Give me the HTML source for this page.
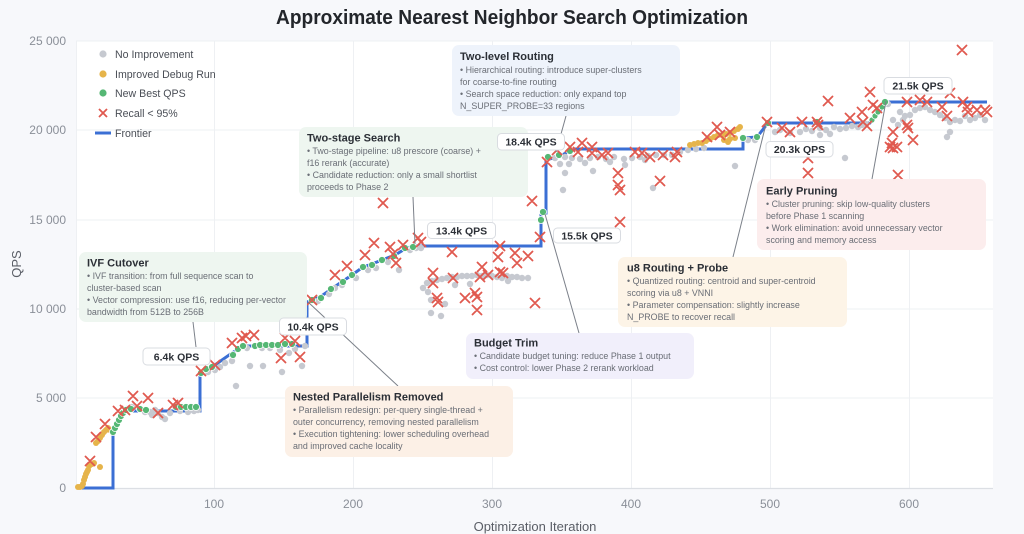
<!DOCTYPE html>
<html><head><meta charset="utf-8"><style>
html,body{margin:0;padding:0;background:#f7f8fb;}
svg{display:block;font-family:"Liberation Sans",sans-serif;}
.tk{font-size:12px;fill:#8a8f98;}
.lg{font-size:10.6px;fill:#4a4e56;}
.bt{font-size:11px;font-weight:bold;fill:#2b2f36;}
.bx{font-size:8.9px;fill:#6a6e76;}
.ql{font-size:10.5px;font-weight:bold;fill:#2b2f36;}
</style></head><body>
<svg width="1024" height="534" viewBox="0 0 1024 534" xmlns="http://www.w3.org/2000/svg">
<rect x="0" y="0" width="1024" height="534" fill="#f7f8fb"/>
<text x="512" y="24" text-anchor="middle" font-size="20" font-weight="bold" fill="#23262b" textLength="472" lengthAdjust="spacingAndGlyphs">Approximate Nearest Neighbor Search Optimization</text>
<!-- plot area -->
<rect x="76" y="41" width="917" height="447" fill="#ffffff"/>
<g stroke="#eef0f3" stroke-width="1">
<line x1="76" y1="41" x2="993" y2="41"/>
<line x1="76" y1="130" x2="993" y2="130"/>
<line x1="76" y1="220" x2="993" y2="220"/>
<line x1="76" y1="309" x2="993" y2="309"/>
<line x1="76" y1="398" x2="993" y2="398"/>
<line x1="214.5" y1="41" x2="214.5" y2="488"/>
<line x1="353.5" y1="41" x2="353.5" y2="488"/>
<line x1="492.5" y1="41" x2="492.5" y2="488"/>
<line x1="631.5" y1="41" x2="631.5" y2="488"/>
<line x1="770.5" y1="41" x2="770.5" y2="488"/>
<line x1="909.5" y1="41" x2="909.5" y2="488"/>
<line x1="76.5" y1="41" x2="76.5" y2="488"/>
</g>
<line x1="76" y1="488.5" x2="993" y2="488.5" stroke="#dcdfe4" stroke-width="1.2"/>
<!-- ticks -->
<g class="tk" text-anchor="end">
<text x="66" y="45">25 000</text>
<text x="66" y="134">20 000</text>
<text x="66" y="224">15 000</text>
<text x="66" y="313">10 000</text>
<text x="66" y="402">5 000</text>
<text x="66" y="492">0</text>
</g>
<g class="tk" text-anchor="middle">
<text x="214" y="508">100</text>
<text x="353" y="508">200</text>
<text x="492" y="508">300</text>
<text x="631" y="508">400</text>
<text x="770" y="508">500</text>
<text x="909" y="508">600</text>
</g>
<text x="535" y="531" text-anchor="middle" font-size="13" fill="#5a5e66">Optimization Iteration</text>
<text transform="translate(21,264) rotate(-90)" text-anchor="middle" font-size="13" fill="#5a5e66">QPS</text>

<!-- frontier -->
<path d="M80,488 H113 V432 L117,424 L121,416 L125,411 H200 V373 L206,369 L212,367 L222,360 L232,353 L243,346 H307 V302 L320,297 L330,290 L343,281 L352,275 L363,267 L372,264 L382,260 L395,255 L405,249 L413,246 H541 V213 H546 V160 L560,156 L570,151 L575,149 H743 V138 L757,137 L768,123 H870 L875,117 L882,108 L886,102 H987" fill="none" stroke="#3b6fd4" stroke-width="3" stroke-linejoin="miter"/>

<!-- gray points -->
<g fill="#c6c9d0">
<circle cx="150" cy="412" r="3.2"/><circle cx="152" cy="415" r="3.2"/><circle cx="158" cy="413" r="3.2"/><circle cx="162" cy="417" r="3.2"/><circle cx="165" cy="419" r="3.2"/><circle cx="170" cy="413" r="3.2"/><circle cx="180" cy="411" r="3.2"/><circle cx="188" cy="412" r="3.2"/><circle cx="194" cy="411" r="3.2"/><circle cx="198" cy="410" r="3.2"/><circle cx="155" cy="410" r="3.2"/><circle cx="145" cy="412" r="3.2"/><circle cx="132" cy="407" r="3.2"/><circle cx="127" cy="409" r="3.2"/>
<circle cx="215" cy="370" r="3.2"/><circle cx="220" cy="367" r="3.2"/><circle cx="225" cy="363" r="3.2"/><circle cx="232" cy="361" r="3.2"/><circle cx="236" cy="386" r="3.2"/><circle cx="250" cy="366" r="3.2"/><circle cx="263" cy="366" r="3.2"/><circle cx="282" cy="372" r="3.2"/><circle cx="302" cy="366" r="3.2"/><circle cx="289" cy="353" r="3.2"/><circle cx="262" cy="348" r="3.2"/><circle cx="270" cy="348" r="3.2"/><circle cx="280" cy="350" r="3.2"/><circle cx="295" cy="349" r="3.2"/><circle cx="305" cy="346" r="3.2"/><circle cx="247" cy="348" r="3.2"/><circle cx="208" cy="372" r="3.2"/>
<circle cx="329" cy="294" r="3.2"/><circle cx="342" cy="285" r="3.2"/><circle cx="356" cy="278" r="3.2"/><circle cx="368" cy="270" r="3.2"/><circle cx="376" cy="268" r="3.2"/><circle cx="388" cy="262" r="3.2"/><circle cx="399" cy="270" r="3.2"/><circle cx="410" cy="250" r="3.2"/><circle cx="416" cy="248" r="3.2"/><circle cx="421" cy="248" r="3.2"/><circle cx="318" cy="301" r="3.2"/><circle cx="335" cy="288" r="3.2"/>
<circle cx="427" cy="283" r="3.2"/><circle cx="432" cy="281" r="3.2"/><circle cx="437" cy="280" r="3.2"/><circle cx="442" cy="279" r="3.2"/><circle cx="447" cy="278" r="3.2"/><circle cx="452" cy="277" r="3.2"/><circle cx="457" cy="277" r="3.2"/><circle cx="462" cy="276" r="3.2"/><circle cx="467" cy="276" r="3.2"/><circle cx="472" cy="276" r="3.2"/><circle cx="477" cy="275" r="3.2"/><circle cx="482" cy="276" r="3.2"/><circle cx="487" cy="275" r="3.2"/><circle cx="492" cy="276" r="3.2"/><circle cx="497" cy="277" r="3.2"/><circle cx="502" cy="278" r="3.2"/><circle cx="507" cy="276" r="3.2"/><circle cx="512" cy="277" r="3.2"/><circle cx="517" cy="277" r="3.2"/><circle cx="522" cy="278" r="3.2"/><circle cx="528" cy="278" r="3.2"/><circle cx="428" cy="292" r="3.2"/><circle cx="431" cy="300" r="3.2"/><circle cx="431" cy="313" r="3.2"/><circle cx="441" cy="316" r="3.2"/><circle cx="445" cy="304" r="3.2"/><circle cx="423" cy="288" r="3.2"/><circle cx="508" cy="281" r="3.2"/><circle cx="470" cy="284" r="3.2"/><circle cx="455" cy="285" r="3.2"/>
<circle cx="555" cy="158" r="3.2"/><circle cx="565" cy="157" r="3.2"/><circle cx="572" cy="158" r="3.2"/><circle cx="580" cy="159" r="3.2"/><circle cx="590" cy="158" r="3.2"/><circle cx="598" cy="157" r="3.2"/><circle cx="606" cy="159" r="3.2"/><circle cx="614" cy="157" r="3.2"/><circle cx="624" cy="159" r="3.2"/><circle cx="632" cy="158" r="3.2"/><circle cx="640" cy="157" r="3.2"/><circle cx="648" cy="156" r="3.2"/><circle cx="656" cy="155" r="3.2"/><circle cx="664" cy="155" r="3.2"/><circle cx="672" cy="155" r="3.2"/><circle cx="680" cy="152" r="3.2"/><circle cx="688" cy="150" r="3.2"/><circle cx="696" cy="149" r="3.2"/><circle cx="704" cy="148" r="3.2"/><circle cx="565" cy="173" r="3.2"/><circle cx="593" cy="171" r="3.2"/><circle cx="563" cy="190" r="3.2"/><circle cx="653" cy="188" r="3.2"/><circle cx="560" cy="164" r="3.2"/><circle cx="569" cy="164" r="3.2"/><circle cx="585" cy="163" r="3.2"/><circle cx="610" cy="162" r="3.2"/><circle cx="625" cy="165" r="3.2"/><circle cx="645" cy="160" r="3.2"/>
<circle cx="748" cy="140" r="3.2"/><circle cx="755" cy="140" r="3.2"/><circle cx="775" cy="132" r="3.2"/><circle cx="780" cy="130" r="3.2"/><circle cx="790" cy="133" r="3.2"/><circle cx="800" cy="132" r="3.2"/><circle cx="806" cy="129" r="3.2"/><circle cx="812" cy="131" r="3.2"/><circle cx="820" cy="128" r="3.2"/><circle cx="826" cy="130" r="3.2"/><circle cx="834" cy="127" r="3.2"/><circle cx="840" cy="129" r="3.2"/><circle cx="846" cy="128" r="3.2"/><circle cx="852" cy="126" r="3.2"/><circle cx="858" cy="127" r="3.2"/><circle cx="862" cy="125" r="3.2"/><circle cx="866" cy="124" r="3.2"/><circle cx="735" cy="166" r="3.2"/><circle cx="845" cy="158" r="3.2"/><circle cx="830" cy="134" r="3.2"/><circle cx="820" cy="135" r="3.2"/>
<circle cx="893" cy="120" r="3.2"/><circle cx="898" cy="125" r="3.2"/><circle cx="900" cy="112" r="3.2"/><circle cx="905" cy="116" r="3.2"/><circle cx="910" cy="115" r="3.2"/><circle cx="915" cy="110" r="3.2"/><circle cx="920" cy="108" r="3.2"/><circle cx="925" cy="107" r="3.2"/><circle cx="930" cy="110" r="3.2"/><circle cx="935" cy="112" r="3.2"/><circle cx="940" cy="115" r="3.2"/><circle cx="945" cy="118" r="3.2"/><circle cx="950" cy="122" r="3.2"/><circle cx="955" cy="120" r="3.2"/><circle cx="960" cy="121" r="3.2"/><circle cx="965" cy="116" r="3.2"/><circle cx="970" cy="120" r="3.2"/><circle cx="975" cy="118" r="3.2"/><circle cx="980" cy="115" r="3.2"/><circle cx="985" cy="120" r="3.2"/><circle cx="947" cy="137" r="3.2"/><circle cx="950" cy="132" r="3.2"/><circle cx="903" cy="120" r="3.2"/><circle cx="888" cy="104" r="3.2"/>
</g>
<!-- yellow points -->
<g fill="#e6b44a">
<circle cx="78" cy="487" r="3"/><circle cx="80" cy="487" r="3"/><circle cx="82" cy="486" r="3"/><circle cx="83" cy="484" r="3"/><circle cx="84" cy="480" r="3"/><circle cx="85" cy="477" r="3"/><circle cx="86" cy="474" r="3"/><circle cx="87" cy="472" r="3"/><circle cx="88" cy="470" r="3"/><circle cx="89" cy="466" r="3"/><circle cx="90" cy="465" r="3"/><circle cx="92" cy="464" r="3"/><circle cx="94" cy="463" r="3"/><circle cx="100" cy="467" r="3"/><circle cx="96" cy="443" r="3"/><circle cx="98" cy="441" r="3"/><circle cx="100" cy="438" r="3"/><circle cx="102" cy="435" r="3"/><circle cx="104" cy="432" r="3"/><circle cx="106" cy="430" r="3"/><circle cx="108" cy="428" r="3"/><circle cx="110" cy="430" r="3"/>
<circle cx="690" cy="145" r="3"/><circle cx="694" cy="144" r="3"/><circle cx="698" cy="143" r="3"/><circle cx="702" cy="143" r="3"/><circle cx="706" cy="141" r="3"/><circle cx="710" cy="139" r="3"/><circle cx="714" cy="137" r="3"/><circle cx="718" cy="135" r="3"/><circle cx="722" cy="135" r="3"/><circle cx="726" cy="134" r="3"/><circle cx="730" cy="133" r="3"/><circle cx="734" cy="131" r="3"/><circle cx="738" cy="129" r="3"/><circle cx="740" cy="127" r="3"/><circle cx="724" cy="140" r="3"/><circle cx="730" cy="139" r="3"/><circle cx="735" cy="138" r="3"/><circle cx="728" cy="142" r="3"/>
</g>
<!-- green points -->
<g fill="#55b774" stroke="#ffffff" stroke-width="0.8">
<circle cx="113" cy="432" r="3.5"/><circle cx="115" cy="428" r="3.5"/><circle cx="117" cy="424" r="3.5"/><circle cx="119" cy="420" r="3.5"/><circle cx="121" cy="416" r="3.5"/><circle cx="123" cy="413" r="3.5"/><circle cx="126" cy="410" r="3.5"/><circle cx="131" cy="409" r="3.5"/><circle cx="140" cy="409" r="3.5"/><circle cx="146" cy="410" r="3.5"/><circle cx="176" cy="407" r="3.5"/><circle cx="181" cy="407" r="3.5"/><circle cx="186" cy="407" r="3.5"/><circle cx="191" cy="407" r="3.5"/><circle cx="196" cy="407" r="3.5"/>
<circle cx="201" cy="373" r="3.5"/><circle cx="206" cy="369" r="3.5"/><circle cx="212" cy="367" r="3.5"/><circle cx="233" cy="355" r="3.5"/><circle cx="238" cy="349" r="3.5"/><circle cx="243" cy="346" r="3.5"/><circle cx="255" cy="346" r="3.5"/><circle cx="260" cy="345" r="3.5"/><circle cx="266" cy="345" r="3.5"/><circle cx="272" cy="345" r="3.5"/><circle cx="278" cy="345" r="3.5"/><circle cx="285" cy="344" r="3.5"/><circle cx="292" cy="344" r="3.5"/>
<circle cx="312" cy="300" r="3.5"/><circle cx="321" cy="298" r="3.5"/><circle cx="331" cy="289" r="3.5"/><circle cx="343" cy="282" r="3.5"/><circle cx="352" cy="275" r="3.5"/><circle cx="363" cy="267" r="3.5"/><circle cx="372" cy="265" r="3.5"/><circle cx="382" cy="260" r="3.5"/><circle cx="394" cy="256" r="3.5"/><circle cx="405" cy="248" r="3.5"/><circle cx="413" cy="247" r="3.5"/>
<circle cx="541" cy="220" r="3.5"/><circle cx="543" cy="212" r="3.5"/><circle cx="548" cy="157" r="3.5"/><circle cx="559" cy="155" r="3.5"/><circle cx="570" cy="151" r="3.5"/>
<circle cx="743" cy="138" r="3.5"/><circle cx="757" cy="137" r="3.5"/><circle cx="768" cy="123" r="3.5"/><circle cx="817" cy="122" r="3.5"/><circle cx="872" cy="120" r="3"/><circle cx="875" cy="116" r="3"/><circle cx="878" cy="112" r="3"/><circle cx="882" cy="107" r="3"/><circle cx="885" cy="102" r="3.5"/>
</g>
<!-- red X (recall < 95%) -->
<path fill="none" stroke="#e0594f" stroke-width="1.8" stroke-linecap="round" d="
M85.5,456.5l9,9m0,-9l-9,9 M91.5,432.5l9,9m0,-9l-9,9 M100.5,419.5l9,9m0,-9l-9,9 M113.5,406.5l9,9m0,-9l-9,9 M120.5,405.5l9,9m0,-9l-9,9 M128.5,391.5l9,9m0,-9l-9,9 M132.5,401.5l9,9m0,-9l-9,9 M143.5,393.5l9,9m0,-9l-9,9 M153.5,408.5l9,9m0,-9l-9,9 M168.5,400.5l9,9m0,-9l-9,9 M173.5,398.5l9,9m0,-9l-9,9
M196.5,366.5l9,9m0,-9l-9,9 M210.5,360.5l9,9m0,-9l-9,9 M237.5,333.5l9,9m0,-9l-9,9 M241.5,331.5l9,9m0,-9l-9,9 M249.5,330.5l9,9m0,-9l-9,9 M276.5,353.5l9,9m0,-9l-9,9 M295.5,352.5l9,9m0,-9l-9,9 M280.5,333.5l9,9m0,-9l-9,9 M290.5,336.5l9,9m0,-9l-9,9 M227.5,338.5l9,9m0,-9l-9,9
M307.5,295.5l9,9m0,-9l-9,9 M330.5,270.5l9,9m0,-9l-9,9 M342.5,261.5l9,9m0,-9l-9,9 M360.5,250.5l9,9m0,-9l-9,9 M369.5,238.5l9,9m0,-9l-9,9 M385.5,242.5l9,9m0,-9l-9,9 M388.5,249.5l9,9m0,-9l-9,9 M391.5,258.5l9,9m0,-9l-9,9 M378.5,198.5l9,9m0,-9l-9,9 M398.5,240.5l9,9m0,-9l-9,9 M413.5,233.5l9,9m0,-9l-9,9 M416.5,237.5l9,9m0,-9l-9,9
M447.5,247.5l9,9m0,-9l-9,9 M495.5,241.5l9,9m0,-9l-9,9 M493.5,252.5l9,9m0,-9l-9,9 M510.5,248.5l9,9m0,-9l-9,9 M512.5,258.5l9,9m0,-9l-9,9 M523.5,251.5l9,9m0,-9l-9,9 M535.5,232.5l9,9m0,-9l-9,9 M527.5,196.5l9,9m0,-9l-9,9 M428.5,268.5l9,9m0,-9l-9,9 M428.5,278.5l9,9m0,-9l-9,9 M448.5,273.5l9,9m0,-9l-9,9 M477.5,262.5l9,9m0,-9l-9,9 M475.5,272.5l9,9m0,-9l-9,9 M495.5,267.5l9,9m0,-9l-9,9 M483.5,270.5l9,9m0,-9l-9,9 M498.5,268.5l9,9m0,-9l-9,9 M432.5,293.5l9,9m0,-9l-9,9 M433.5,297.5l9,9m0,-9l-9,9 M460.5,293.5l9,9m0,-9l-9,9 M470.5,288.5l9,9m0,-9l-9,9 M472.5,292.5l9,9m0,-9l-9,9 M472.5,305.5l9,9m0,-9l-9,9 M530.5,298.5l9,9m0,-9l-9,9
M542.5,157.5l9,9m0,-9l-9,9 M552.5,145.5l9,9m0,-9l-9,9 M565.5,142.5l9,9m0,-9l-9,9 M577.5,138.5l9,9m0,-9l-9,9 M573.5,147.5l9,9m0,-9l-9,9 M587.5,148.5l9,9m0,-9l-9,9 M597.5,150.5l9,9m0,-9l-9,9 M603.5,148.5l9,9m0,-9l-9,9 M630.5,147.5l9,9m0,-9l-9,9 M637.5,148.5l9,9m0,-9l-9,9 M645.5,152.5l9,9m0,-9l-9,9 M658.5,150.5l9,9m0,-9l-9,9 M670.5,152.5l9,9m0,-9l-9,9 M672.5,147.5l9,9m0,-9l-9,9 M702.5,132.5l9,9m0,-9l-9,9 M712.5,122.5l9,9m0,-9l-9,9 M715.5,130.5l9,9m0,-9l-9,9 M613.5,168.5l9,9m0,-9l-9,9 M613.5,180.5l9,9m0,-9l-9,9 M615.5,185.5l9,9m0,-9l-9,9 M655.5,176.5l9,9m0,-9l-9,9 M615.5,217.5l9,9m0,-9l-9,9 M587.5,142.5l9,9m0,-9l-9,9
M725.5,127.5l9,9m0,-9l-9,9 M762.5,117.5l9,9m0,-9l-9,9 M777.5,123.5l9,9m0,-9l-9,9 M785.5,127.5l9,9m0,-9l-9,9 M797.5,117.5l9,9m0,-9l-9,9 M812.5,117.5l9,9m0,-9l-9,9 M813.5,120.5l9,9m0,-9l-9,9 M823.5,96.5l9,9m0,-9l-9,9 M845.5,113.5l9,9m0,-9l-9,9 M857.5,107.5l9,9m0,-9l-9,9 M858.5,117.5l9,9m0,-9l-9,9 M862.5,121.5l9,9m0,-9l-9,9 M865.5,87.5l9,9m0,-9l-9,9 M868.5,100.5l9,9m0,-9l-9,9 M872.5,103.5l9,9m0,-9l-9,9 M888.5,127.5l9,9m0,-9l-9,9 M902.5,120.5l9,9m0,-9l-9,9 M903.5,123.5l9,9m0,-9l-9,9 M887.5,138.5l9,9m0,-9l-9,9 M888.5,143.5l9,9m0,-9l-9,9 M892.5,142.5l9,9m0,-9l-9,9 M885.5,142.5l9,9m0,-9l-9,9 M908.5,135.5l9,9m0,-9l-9,9 M893.5,170.5l9,9m0,-9l-9,9 M803.5,153.5l9,9m0,-9l-9,9 M803.5,168.5l9,9m0,-9l-9,9 M902.5,97.5l9,9m0,-9l-9,9 M915.5,95.5l9,9m0,-9l-9,9 M922.5,97.5l9,9m0,-9l-9,9 M937.5,102.5l9,9m0,-9l-9,9 M942.5,111.5l9,9m0,-9l-9,9 M945.5,88.5l9,9m0,-9l-9,9 M957.5,45.5l9,9m0,-9l-9,9 M958.5,97.5l9,9m0,-9l-9,9 M962.5,102.5l9,9m0,-9l-9,9 M963.5,107.5l9,9m0,-9l-9,9 M972.5,105.5l9,9m0,-9l-9,9 M980.5,105.5l9,9m0,-9l-9,9 M982.5,107.5l9,9m0,-9l-9,9"/>

<!-- legend -->
<circle cx="103" cy="54" r="3.6" fill="#c6c9d0"/>
<circle cx="103" cy="74" r="3.6" fill="#e6b44a"/>
<circle cx="103" cy="93" r="3.6" fill="#55b774"/>
<path d="M99,109l8,8m0,-8l-8,8" stroke="#e0594f" stroke-width="1.8" fill="none"/>
<line x1="95" y1="133" x2="111" y2="133" stroke="#3b6fd4" stroke-width="3"/>
<g class="lg">
<text x="115" y="58">No Improvement</text>
<text x="115" y="78">Improved Debug Run</text>
<text x="115" y="97">New Best QPS</text>
<text x="115" y="117">Recall &lt; 95%</text>
<text x="115" y="137">Frontier</text>
</g>

<!-- connectors -->
<g stroke="#7b8089" stroke-width="1" fill="none">
<line x1="193" y1="322" x2="196" y2="347"/>
<line x1="308" y1="302" x2="398" y2="386"/>
<line x1="413" y1="197" x2="415" y2="244"/>
<line x1="566" y1="116" x2="556" y2="152"/>
<line x1="545" y1="214" x2="579" y2="333"/>
<line x1="766" y1="124" x2="733" y2="257"/>
<line x1="886" y1="101" x2="872" y2="179"/>
</g>

<!-- annotation boxes -->
<g>
<rect x="79" y="252" width="228" height="70" rx="7" fill="#edf5ef" fill-opacity="0.95"/>
<text class="bt" x="87" y="266.5">IVF Cutover</text>
<text class="bx" x="87" y="279">• IVF transition: from full sequence scan to</text>
<text class="bx" x="87" y="291">cluster-based scan</text>
<text class="bx" x="87" y="303">• Vector compression: use f16, reducing per-vector</text>
<text class="bx" x="87" y="315">bandwidth from 512B to 256B</text>

<rect x="299" y="127" width="229" height="70" rx="7" fill="#edf5ef" fill-opacity="0.95"/>
<text class="bt" x="307" y="141.5">Two-stage Search</text>
<text class="bx" x="307" y="154">• Two-stage pipeline: u8 prescore (coarse) +</text>
<text class="bx" x="307" y="166">f16 rerank (accurate)</text>
<text class="bx" x="307" y="178">• Candidate reduction: only a small shortlist</text>
<text class="bx" x="307" y="190">proceeds to Phase 2</text>

<rect x="452" y="45" width="228" height="71" rx="7" fill="#edf2fb" fill-opacity="0.95"/>
<text class="bt" x="460" y="60">Two-level Routing</text>
<text class="bx" x="460" y="73">• Hierarchical routing: introduce super-clusters</text>
<text class="bx" x="460" y="85">for coarse-to-fine routing</text>
<text class="bx" x="460" y="97">• Search space reduction: only expand top</text>
<text class="bx" x="460" y="109">N_SUPER_PROBE=33 regions</text>

<rect x="757" y="179" width="229" height="71" rx="7" fill="#fcecec" fill-opacity="0.95"/>
<text class="bt" x="766" y="194.5">Early Pruning</text>
<text class="bx" x="766" y="207">• Cluster pruning: skip low-quality clusters</text>
<text class="bx" x="766" y="219">before Phase 1 scanning</text>
<text class="bx" x="766" y="231">• Work elimination: avoid unnecessary vector</text>
<text class="bx" x="766" y="243">scoring and memory access</text>

<rect x="618" y="257" width="229" height="70" rx="7" fill="#fdf3e6" fill-opacity="0.95"/>
<text class="bt" x="627" y="271.5">u8 Routing + Probe</text>
<text class="bx" x="627" y="284">• Quantized routing: centroid and super-centroid</text>
<text class="bx" x="627" y="296">scoring via u8 + VNNI</text>
<text class="bx" x="627" y="308">• Parameter compensation: slightly increase</text>
<text class="bx" x="627" y="320">N_PROBE to recover recall</text>

<rect x="466" y="333" width="228" height="46" rx="7" fill="#f0eefb" fill-opacity="0.95"/>
<text class="bt" x="474" y="346.5">Budget Trim</text>
<text class="bx" x="474" y="359">• Candidate budget tuning: reduce Phase 1 output</text>
<text class="bx" x="474" y="371">• Cost control: lower Phase 2 rerank workload</text>

<rect x="285" y="386" width="228" height="71" rx="7" fill="#fcefe5" fill-opacity="0.95"/>
<text class="bt" x="293" y="400.5">Nested Parallelism Removed</text>
<text class="bx" x="293" y="413">• Parallelism redesign: per-query single-thread +</text>
<text class="bx" x="293" y="425">outer concurrency, removing nested parallelism</text>
<text class="bx" x="293" y="437">• Execution tightening: lower scheduling overhead</text>
<text class="bx" x="293" y="449">and improved cache locality</text>
</g>

<!-- QPS labels (on top) -->
<g fill="#ffffff" stroke="#d9dce1" stroke-width="1">
<rect x="143" y="348" width="67" height="17" rx="4"/>
<rect x="279.5" y="318" width="67" height="17" rx="4"/>
<rect x="427.5" y="222.5" width="68" height="16" rx="4"/>
<rect x="553.5" y="228" width="67" height="15" rx="4"/>
<rect x="497.5" y="133.5" width="67" height="16.5" rx="4"/>
<rect x="766" y="141.5" width="67" height="15.5" rx="4"/>
<rect x="884" y="77.5" width="68" height="16.5" rx="4"/>
</g>
<g class="ql" text-anchor="middle">
<text x="176.5" y="360.5">6.4k QPS</text>
<text x="313" y="330.5">10.4k QPS</text>
<text x="461.5" y="234.5">13.4k QPS</text>
<text x="587" y="239.5">15.5k QPS</text>
<text x="531" y="145.5">18.4k QPS</text>
<text x="799.5" y="153">20.3k QPS</text>
<text x="918" y="89.5">21.5k QPS</text>
</g>
</svg>
</body></html>
